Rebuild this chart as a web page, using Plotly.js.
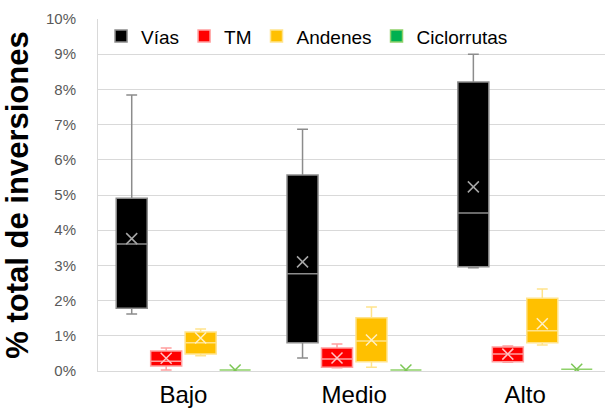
<!DOCTYPE html>
<html>
<head>
<meta charset="utf-8">
<script src="https://cdn.plot.ly/plotly-3.0.1.min.js"></script>
<style>html,body{margin:0;padding:0;background:#fff;}#chart{width:605px;height:408px;}</style>
</head>
<body>
<div id="chart"></div>
<script>
// Categories
const categories = ["Bajo", "Medio", "Alto"];
const seriesNames = ["Vías", "TM", "Andenes", "Ciclorrutas"];

// Vías (% total de inversiones)
const viasLow = [1.62, 0.37, 2.93];
const viasQ1 = [1.78, 0.80, 2.96];
const viasMed = [3.61, 2.76, 4.49];
const viasQ3 = [4.91, 5.57, 8.21];
const viasHigh = [7.84, 6.87, 9.00];
const viasMean = [3.76, 3.10, 5.23];

// TM
const tmLow = [0.03, 0.09, 0.25];
const tmQ1 = [0.14, 0.11, 0.26];
const tmMed = [0.28, 0.34, 0.48];
const tmQ3 = [0.57, 0.65, 0.68];
const tmHigh = [0.65, 0.77, 0.71];
const tmMean = [0.36, 0.37, 0.48];

// Andenes
const andLow = [0.43, 0.11, 0.74];
const andQ1 = [0.48, 0.26, 0.80];
const andMed = [0.80, 0.85, 1.14];
const andQ3 = [1.11, 1.51, 2.07];
const andHigh = [1.19, 1.82, 2.33];
const andMean = [0.94, 0.88, 1.34];

// Ciclorrutas
const cicLow = [0.03, 0.03, 0.05];
const cicQ1 = [0.03, 0.03, 0.05];
const cicMed = [0.03, 0.03, 0.05];
const cicQ3 = [0.03, 0.03, 0.05];
const cicHigh = [0.03, 0.03, 0.05];
const cicMean = [0.03, 0.03, 0.05];

const yTicks = [0,1,2,3,4,5,6,7,8,9,10];

const stats = [
  {low: viasLow, q1: viasQ1, med: viasMed, q3: viasQ3, high: viasHigh, mean: viasMean,
   fill: "#000000", line: "#8c8c8c", meanColor: "#a6a6a6"},
  {low: tmLow, q1: tmQ1, med: tmMed, q3: tmQ3, high: tmHigh, mean: tmMean,
   fill: "#ff0000", line: "#ff9f9f", meanColor: "#ffc4c4"},
  {low: andLow, q1: andQ1, med: andMed, q3: andQ3, high: andHigh, mean: andMean,
   fill: "#ffc000", line: "#ffe38c", meanColor: "#fff0c4"},
  {low: cicLow, q1: cicQ1, med: cicMed, q3: cicQ3, high: cicHigh, mean: cicMean,
   fill: "#00b050", line: "#8fd16a", meanColor: "#7cc655"}
];

const traces = [];
stats.forEach((s, i) => {
  traces.push({
    type: "box",
    name: seriesNames[i],
    x: categories,
    q1: s.q1, median: s.med, q3: s.q3,
    lowerfence: s.low, upperfence: s.high,
    fillcolor: s.fill,
    line: {color: s.line, width: 1.5},
    whiskerwidth: 0.35,
    boxpoints: false,
    offsetgroup: "g" + i,
    hoverinfo: "skip"
  });
});
stats.forEach((s, i) => {
  traces.push({
    type: "scatter",
    mode: "markers",
    x: categories,
    y: s.mean,
    offsetgroup: "g" + i,
    showlegend: false,
    marker: {symbol: "x-thin", size: 11, line: {color: s.meanColor, width: 1.5}, color: s.meanColor},
    hoverinfo: "skip"
  });
});

const layout = {
  width: 605, height: 408,
  margin: {l: 98, r: 0, t: 19, b: 37, pad: 0},
  paper_bgcolor: "#ffffff", plot_bgcolor: "#ffffff",
  font: {family: "Liberation Sans, Arial, sans-serif", color: "#000"},
  boxmode: "group",
  boxgap: 0.193,
  boxgroupgap: 0.1,
  scattermode: "group",
  scattergap: 0.193,
  showlegend: true,
  legend: {
    orientation: "h", x: 0.006, xanchor: "left", y: 1.005, yanchor: "top",
    font: {size: 19, color: "#000"}, bgcolor: "rgba(255,255,255,0)",
    itemwidth: 30, traceorder: "normal"
  },
  xaxis: {
    type: "category",
    range: [-0.5, 2.468],
    showgrid: false, zeroline: false,
    showline: true, linecolor: "#d9d9d9", linewidth: 1,
    ticks: "",
    tickfont: {size: 24, color: "#000"},
    ticklabelstandoff: 2
  },
  yaxis: {
    range: [0, 10],
    tickvals: yTicks,
    ticktext: yTicks.map(v => v + "%"),
    showgrid: true, gridcolor: "#d9d9d9", gridwidth: 1,
    zeroline: false,
    showline: true, linecolor: "#d9d9d9", linewidth: 1,
    ticks: "",
    tickfont: {size: 15, color: "#595959"},
    ticklabelstandoff: 18,
    title: {text: "<b>% total de inversiones</b>", font: {size: 31, color: "#000"}, standoff: 9}
  }
};

Plotly.newPlot("chart", traces, layout, {displayModeBar: false, staticPlot: true});
</script>
</body>
</html>
